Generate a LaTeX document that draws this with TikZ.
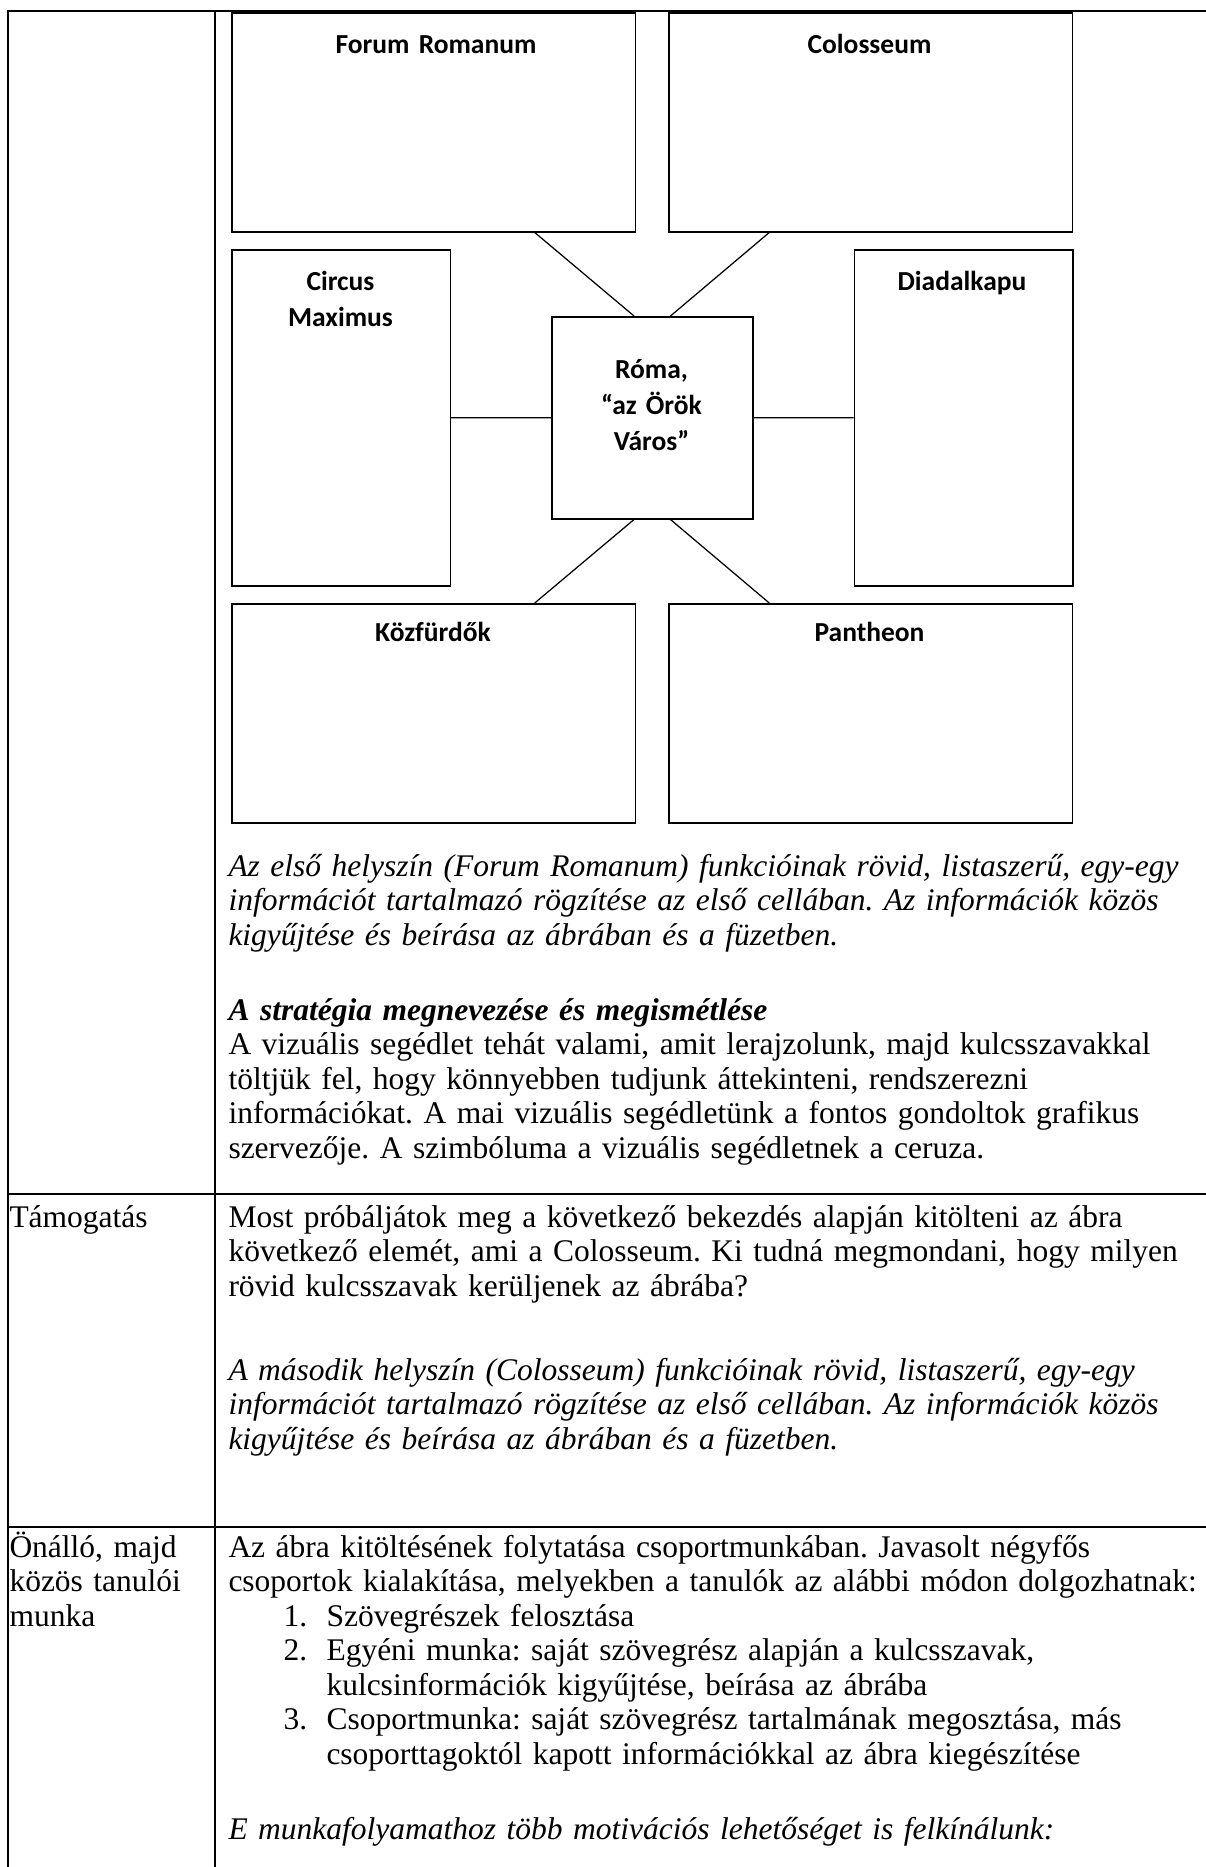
\documentclass[tikz,border=0pt]{standalone}
\usepackage{fontspec}
\setmainfont{Liberation Serif}
\newfontfamily\boxfont{Carlito}
\usetikzlibrary{positioning,calc}
\frenchspacing

\begin{document}
\begin{tikzpicture}[x=0.4pt, y=-0.4pt,
        tile/.style={rectangle, draw, line width=0.6pt, inner sep=0pt, anchor=north west, minimum width=161.4pt, minimum height=87.6pt},
        tall/.style={tile, minimum width=87.4pt, minimum height=134.4pt},
        hub/.style={tile, minimum width=80.4pt, minimum height=80.8pt},
        title/.style={font={\boxfont\bfseries\fontsize{11}{14.4}\selectfont}, text width=150pt, align=center, anchor=base, inner sep=0pt},
        link/.style={draw, line width=0.5pt},
        rule/.style={draw, line width=0.8pt},
        body/.style={font={\fontsize{12.6}{13.8}\selectfont}, text width=440pt, align=left, anchor=base west, inner sep=0pt}
    ]
    \useasboundingbox (0,0) rectangle (1206,1867);
    % table frame
    \path [rule] (7.5,1867) -- (7.5,11) -- (1206,11);
    \path [rule] (215,11) -- (215,1867);
    \path [rule] (7.5,1194) -- (1206,1194);
    \path [rule] (7.5,1527) -- (1206,1527);
    % graphic organiser
    \node [tile] (forum) at (231,12) {};
    \node [tile] (colosseum) at (668,12) {};
    \node [tall] (circus) at (231,249) {};
    \node [tall] (diadal) at (853.5,249) {};
    \node [hub] (roma) at (551,316) {};
    \node [tile] (furdo) at (231,603) {};
    \node [tile] (pantheon) at (668,603) {};
    \node [title] (forumtitle) at (436,53.5) {Forum Romanum};
    \node [title] (colosseumtitle) at (869.5,53.5) {Colosseum};
    \node [title] (circustitle) at (340.5,290) {Circus\\Maximus};
    \node [title] (diadaltitle) at (962,290) {Diadalkapu};
    \node [title] (romatitle) at (651.5,378) {Róma,\\“az Örök\\Város”};
    \node [title] (furdotitle) at (433,641) {Közfürdők};
    \node [title] (pantheontitle) at (869.5,641) {Pantheon};
    \path [link] ($(forum.south west)!0.75!(forum.south east)$) -- ($(roma.north west)!0.41!(roma.north east)$);
    \path [link] ($(colosseum.south west)!0.25!(colosseum.south east)$) -- ($(roma.north west)!0.59!(roma.north east)$);
    \path [link] (circus.east) -- (roma.west);
    \path [link] (roma.east) -- (diadal.west);
    \path [link] ($(roma.south west)!0.41!(roma.south east)$) -- ($(furdo.north west)!0.75!(furdo.north east)$);
    \path [link] ($(roma.south west)!0.59!(roma.south east)$) -- ($(pantheon.north west)!0.25!(pantheon.north east)$);
    % first row
    \node [body] (note1) at (228,876) {\itshape Az első helyszín (Forum Romanum) funkcióinak rövid, listaszerű, egy-egy\\
        információt tartalmazó rögzítése az első cellában. Az információk közös\\
        kigyűjtése és beírása az ábrában és a füzetben.};
    \node [body] (strategy) at (228,1020) {{\bfseries\itshape A stratégia megnevezése és megismétlése}\\
        A vizuális segédlet tehát valami, amit lerajzolunk, majd kulcsszavakkal\\
        töltjük fel, hogy könnyebben tudjunk áttekinteni, rendszerezni\\
        információkat. A mai vizuális segédletünk a fontos gondoltok grafikus\\
        szervezője. A szimbóluma a vizuális segédletnek a ceruza.};
    % second row
    \node [body] (support) at (9,1227) {Támogatás};
    \node [body] (question) at (228,1227) {Most próbáljátok meg a következő bekezdés alapján kitölteni az ábra\\
        következő elemét, ami a Colosseum. Ki tudná megmondani, hogy milyen\\
        rövid kulcsszavak kerüljenek az ábrába?};
    \node [body] (note2) at (228,1380) {\itshape A második helyszín (Colosseum) funkcióinak rövid, listaszerű, egy-egy\\
        információt tartalmazó rögzítése az első cellában. Az információk közös\\
        kigyűjtése és beírása az ábrában és a füzetben.};
    % third row
    \node [body] (work) at (9,1557) {Önálló, majd\\közös tanulói\\munka};
    \node [body] (group) at (228,1557) {Az ábra kitöltésének folytatása csoportmunkában. Javasolt négyfős\\
        csoportok kialakítása, melyekben a tanulók az alábbi módon dolgozhatnak:};
    \node [body] (num1) at (283,1626) {1.};
    \node [body] (item1) at (326,1626) {Szövegrészek felosztása};
    \node [body] (num2) at (283,1660.5) {2.};
    \node [body] (item2) at (326,1660.5) {Egyéni munka: saját szövegrész alapján a kulcsszavak,\\
        kulcsinformációk kigyűjtése, beírása az ábrába};
    \node [body] (num3) at (283,1729.5) {3.};
    \node [body] (item3) at (326,1729.5) {Csoportmunka: saját szövegrész tartalmának megosztása, más\\
        csoporttagoktól kapott információkkal az ábra kiegészítése};
    \node [body] (motive) at (228,1839) {\itshape E munkafolyamathoz több motivációs lehetőséget is felkínálunk:};
\end{tikzpicture}
\end{document}
